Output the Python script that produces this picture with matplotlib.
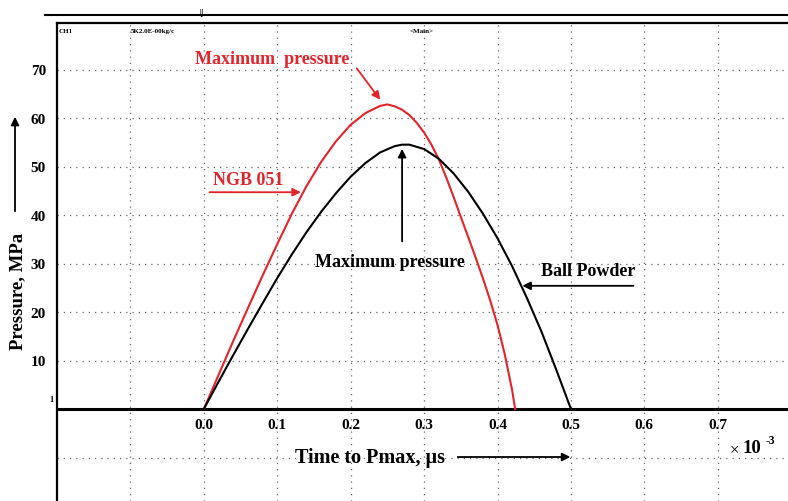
import matplotlib
matplotlib.use("Agg")
import matplotlib.pyplot as plt
from matplotlib.lines import Line2D

# NGB 051 trace (time x 10^-3, pressure in MPa)
ngb_time = [0.0, 0.02, 0.04, 0.06, 0.08, 0.10, 0.12, 0.14, 0.16, 0.18, 0.20, 0.22, 0.24,
            0.25, 0.26, 0.27, 0.28, 0.29, 0.30, 0.31, 0.32, 0.33, 0.34, 0.35, 0.36, 0.37,
            0.38, 0.39, 0.40, 0.41, 0.42, 0.424]
ngb_pressure = [0.0, 7.0, 14.0, 20.8, 27.5, 34.0, 40.3, 46.0, 51.0, 55.2, 58.6, 61.0, 62.5,
                62.8, 62.4, 61.7, 60.6, 59.0, 57.0, 54.5, 51.5, 47.8, 43.8, 39.6, 35.5, 31.3,
                27.0, 22.4, 17.3, 11.2, 3.8, 0.0]

# Ball Powder trace
ball_time = [0.0, 0.02, 0.04, 0.06, 0.08, 0.10, 0.12, 0.14, 0.16, 0.18, 0.20, 0.22, 0.24,
             0.26, 0.27, 0.28, 0.30, 0.32, 0.34, 0.36, 0.38, 0.40, 0.42, 0.44, 0.46, 0.48, 0.50]
ball_pressure = [0.0, 5.6, 11.1, 16.5, 21.8, 27.0, 31.9, 36.5, 40.7, 44.5, 47.9, 50.7, 52.9,
                 54.2, 54.5, 54.5, 53.6, 51.6, 48.6, 44.8, 40.3, 35.2, 29.4, 22.9, 15.9, 8.1, 0.0]

x_ticks = [-0.1, 0.0, 0.1, 0.2, 0.3, 0.4, 0.5, 0.6, 0.7]
x_labels = ["", "0.0", "0.1", "0.2", "0.3", "0.4", "0.5", "0.6", "0.7"]
y_ticks = [-10, 0, 10, 20, 30, 40, 50, 60, 70]
y_labels = ["", "", "10", "20", "30", "40", "50", "60", "70"]

RED = "#e3242b"
SERIF = "Liberation Serif"

plt.rcParams["font.family"] = [SERIF, "DejaVu Serif"]

fig = plt.figure(figsize=(7.88, 5.02), dpi=100)
ax = fig.add_axes([57 / 788, 0, 1 - 57 / 788, 1 - 24 / 502])
ax.set_xlim(-0.2, (788 - 204) / 734)
ax.set_ylim((410 - 502) / 4.85, (410 - 24) / 4.85)

for side in ["right", "bottom"]:
    ax.spines[side].set_visible(False)
ax.spines["left"].set_linewidth(1.6)
ax.spines["top"].set_linewidth(1.6)

ax.set_xticks(x_ticks)
ax.set_xticklabels([])
ax.set_yticks(y_ticks)
ax.set_yticklabels(y_labels, fontsize=11, fontweight="bold")
ax.tick_params(length=0)
ax.tick_params(axis="y", pad=8)
ax.grid(True, color="#666666", linestyle=(0, (1, 4)), linewidth=0.9)

# oscilloscope zero line
ax.axhline(0, color="black", lw=2.2, zorder=3)

ax.plot(ngb_time, ngb_pressure, color=RED, lw=1.5, zorder=4)
ax.plot(ball_time, ball_pressure, color="black", lw=1.5, zorder=4)

for x, lab in zip(x_ticks, x_labels):
    ax.text(x, -3.2, lab, ha="center", va="center", fontsize=11, fontweight="bold")

arrow = dict(arrowstyle="-|>", lw=1.3, mutation_scale=12)
ax.text(0.093, 72.2, "Maximum  pressure", color=RED, ha="center", va="center",
        fontsize=13, fontweight="bold")
ax.annotate("", xy=(0.2425, 63.3), xytext=(0.206, 70.7),
            arrowprops=dict(arrow, color=RED))
ax.text(0.061, 47.4, "NGB 051", color=RED, ha="center", va="center",
        fontsize=13, fontweight="bold")
ax.annotate("", xy=(0.136, 44.7), xytext=(0.004, 44.7),
            arrowprops=dict(arrow, color=RED))
ax.text(0.253, 30.5, "Maximum pressure", color="black", ha="center", va="center",
        fontsize=13, fontweight="bold")
ax.annotate("", xy=(0.27, 54.2), xytext=(0.27, 34.0),
            arrowprops=dict(arrow, color="black"))
ax.text(0.523, 28.5, "Ball Powder", color="black", ha="center", va="center",
        fontsize=13, fontweight="bold")
ax.annotate("", xy=(0.43, 25.4), xytext=(0.589, 25.4),
            arrowprops=dict(arrow, color="black"))
ax.text(0.226, -9.9, "Time to Pmax, µs", color="black", ha="center", va="center",
        fontsize=14.5, fontweight="bold")
ax.annotate("", xy=(0.503, -9.9), xytext=(0.342, -9.9),
            arrowprops=dict(arrow, color="black"))
ax.text(0.716, -8.3, "×", ha="left", va="center", fontsize=12)
ax.text(0.734, -8.0, "10", ha="left", va="center", fontsize=13.5, fontweight="bold")
ax.text(0.765, -6.4, "-3", ha="left", va="center", fontsize=8.5, fontweight="bold")

# scope header texts
ax.text(-0.198, 78.0, "CH1", ha="left", va="center", fontsize=5, fontweight="bold")
ax.text(-0.1, 78.0, "5K2.0E-00kg/c", ha="left", va="center", fontsize=5, fontweight="bold")
ax.text(0.28, 78.0, "<Main>", ha="left", va="center", fontsize=5, fontweight="bold")
ax.text(-0.205, 2.0, "1", ha="right", va="center", fontsize=6, fontweight="bold")

# outer frame line above the plot and the trigger mark
fig.add_artist(Line2D([45 / 788, 1], [1 - 16 / 502] * 2, color="black", lw=1.5))
fig.text(201 / 788, 1 - 14 / 502, "⇓", ha="center", va="center", fontsize=8,
         family="DejaVu Sans")

# y label with arrow
fig.text(18 / 788, 1 - 291 / 502, "Pressure, MPa", rotation=90, ha="center", va="center",
         fontsize=13.5, fontweight="bold")
fig.add_artist(plt.Annotation("", xy=(15 / 788, 1 - 115 / 502), xytext=(15 / 788, 1 - 215 / 502),
                              xycoords="figure fraction", textcoords="figure fraction",
                              arrowprops=dict(arrow, color="black")))

fig.savefig("out.png", dpi=100)
